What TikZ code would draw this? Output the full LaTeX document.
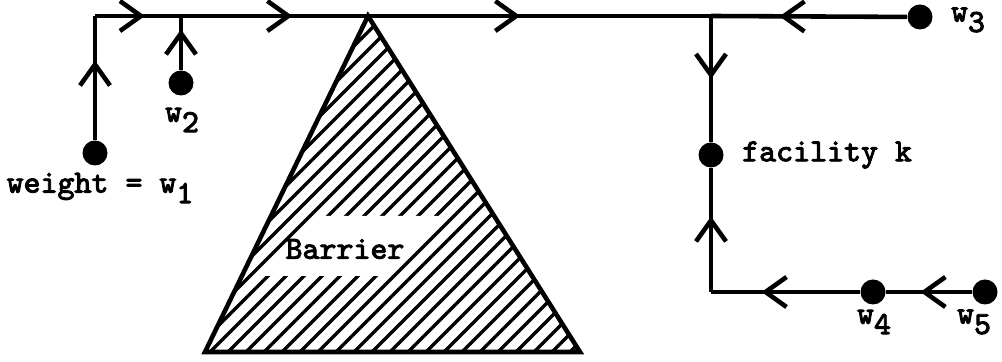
\documentclass[tikz,border=0pt]{standalone}
\usepackage{fontspec}
\setmonofont{Latin Modern Mono}[FakeBold=2.6]
\usetikzlibrary{arrows.meta,positioning,decorations.markings}
\tikzset{
  >={Straight Barb[length=2.1mm,width=3mm]},
  road/.style={line width=1.3pt},
  dot/.style={circle,fill=black,inner sep=0pt,minimum size=2.5mm},
  lbl/.style={font=\fontsize{9.2}{11}\selectfont\ttfamily,inner sep=1pt},
  arr/.style={postaction={decorate,decoration={markings,
    mark=at position #1 with {\arrow{>}}}}},
}
\newcommand{\wsub}[1]{w\raisebox{-0.75ex}{#1}}

\begin{document}
\begin{tikzpicture}
  \useasboundingbox (0,0) rectangle (10.02,-3.62);
  % barrier
  \begin{scope}
    \clip (3.68,-0.16) -- (2.05,-3.52) -- (5.80,-3.52) -- cycle;
    \foreach \c in {-9.4,-9.22,...,-2.1}
      \draw[line width=1pt] (1.9,1.9+\c) -- (6,6+\c);
    \fill[white] (2.60,-2.76) -- (3.80,-2.76) -- (4.42,-2.16) -- (3.22,-2.16) -- cycle;
  \end{scope}
  \draw[road,line join=miter] (3.68,-0.16) -- (2.05,-3.52) -- (5.80,-3.52) -- cycle;
  \node[lbl] (barrier) at (3.45,-2.49) {Barrier};

  % points and network
  \node[dot] (w1) at (0.95,-1.53) {};
  \node[dot] (w2) at (1.81,-0.83) {};
  \node[dot] (w3) at (9.20,-0.17) {};
  \node[dot] (fk) at (7.11,-1.55) {};
  \node[dot] (w4) at (8.73,-2.92) {};
  \node[dot] (w5) at (9.85,-2.92) {};
  \coordinate (tl) at (0.95,-0.16);
  \coordinate (j2) at (1.81,-0.16);
  \coordinate (jk) at (7.11,-0.16);
  \coordinate (bl) at (7.11,-2.92);

  \draw[road,arr=0.64] (w1) -- (tl);
  \draw[road,arr=0.58] (tl) -- (j2);
  \draw[road,arr=0.75] (w2) -- (j2);
  \draw[road,arr=0.21,arr=0.64] (j2) -- (jk);
  \draw[road,arr=0.65] (w3) -- (jk);
  \draw[road,arr=0.5] (jk) -- (fk);
  \draw[road,arr=0.61] (bl) -- (fk);
  \draw[road,arr=0.6] (w5) -- (w4);
  \draw[road,arr=0.66] (w4) -- (bl);

  \node[lbl] (l1) at (1.0,-1.88) {weight = \wsub{1}};
  \node[lbl] (l2) at (1.82,-1.2) {\wsub{2}};
  \node[lbl] (l3) at (9.68,-0.2) {\wsub{3}};
  \node[lbl,anchor=west] (lk) at (7.38,-1.55) {facility k};
  \node[lbl] (l4) at (8.74,-3.22) {\wsub{4}};
  \node[lbl] (l5) at (9.74,-3.22) {\wsub{5}};
\end{tikzpicture}
\end{document}
